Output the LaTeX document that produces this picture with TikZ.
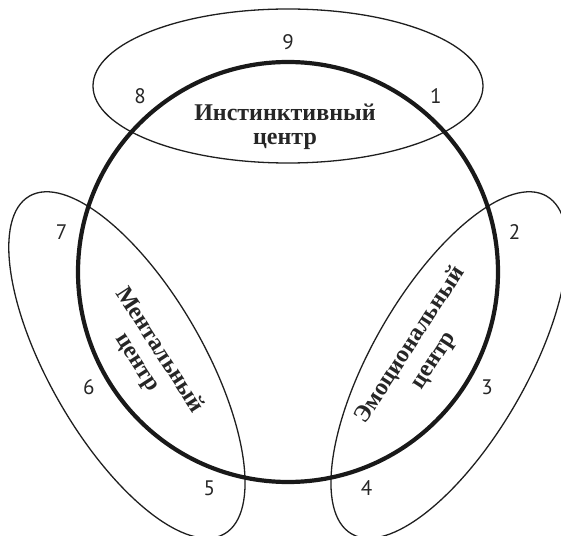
\documentclass[tikz,border=0pt]{standalone}
\usepackage{fontspec}
\setmainfont{Liberation Serif}
\newfontfamily\numfont{PT Sans}
\begin{document}
\begin{tikzpicture}[x=1pt,y=1pt,
  ring/.style={draw=black!88, line width=1.3pt},
  bigring/.style={draw=black!90, line width=4.2pt},
  numlbl/.style={font=\numfont\fontsize{21}{21}\selectfont, text=black!85, inner sep=0pt},
  centerlbl/.style={font=\bfseries\fontsize{24}{24}\selectfont, text=black!85, inner sep=0pt}]
\useasboundingbox (-288,-263) rectangle (273,272);
% three ellipses
\draw[ring] (0,186) ellipse [x radius=195, y radius=77];
\draw[ring, rotate=120] (0,186) ellipse [x radius=195, y radius=77];
\draw[ring, rotate=-120] (0,186) ellipse [x radius=195, y radius=77];
% main circle
\node[draw=none, inner sep=0pt] (c) at (0,0) {};
\draw[bigring] (c) circle [radius=210];
% numbers
\foreach \k in {1,...,9} {
  \node[numlbl] (n\k) at ({90-40*\k}:230) {\k};
}
% labels
\node[centerlbl] (instA) at (-3,160) {Инстинктивный};
\node[centerlbl] (instB) at (-3,131) {центр};
\node[centerlbl, rotate=-57] (mentA) at (-127,-77) {Ментальный};
\node[centerlbl, rotate=-57] (mentB) at (-153,-92) {центр};
\node[centerlbl, rotate=57] (emoA) at (122,-73) {Эмоциональный};
\node[centerlbl, rotate=57] (emoB) at (148,-90) {центр};
\end{tikzpicture}
\end{document}
